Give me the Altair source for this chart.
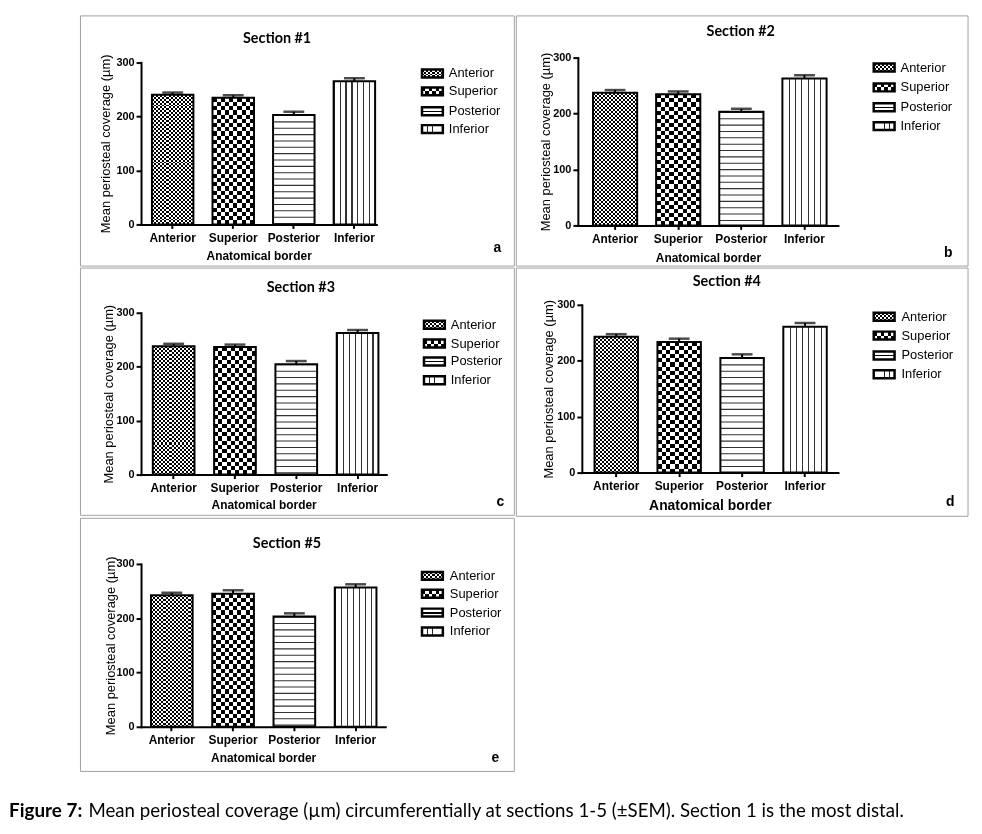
import altair as alt
import pandas as pd

# ---------------- data ----------------
categories = ["Anterior", "Superior", "Posterior", "Inferior"]
section_titles = ["Section #1", "Section #2", "Section #3", "Section #4", "Section #5"]
panel_letters = ["a", "b", "c", "d", "e"]

mean_s1 = [240.0, 234.5, 202.5, 265.0]
sem_s1 = [4.0, 4.5, 6.0, 5.5]
mean_s2 = [237.0, 234.5, 203.0, 262.5]
sem_s2 = [5.0, 5.0, 5.5, 6.0]
mean_s3 = [238.0, 236.5, 204.5, 262.5]
sem_s3 = [4.5, 4.5, 6.0, 5.5]
mean_s4 = [243.0, 233.5, 205.0, 261.0]
sem_s4 = [4.5, 6.0, 6.5, 6.5]
mean_s5 = [242.5, 245.0, 203.0, 256.5]
sem_s5 = [4.5, 6.5, 6.0, 6.0]

y_ticks = [0, 100, 200, 300]
y_title = "Mean periosteal coverage (µm)"
x_title = "Anatomical border"
caption_bold = "Figure 7:"
caption_rest = ("Mean periosteal coverage (µm) circumferentially at sections 1-5 (±SEM). "
                "Section 1 is the most distal.")

means = [mean_s1, mean_s2, mean_s3, mean_s4, mean_s5]
sems = [sem_s1, sem_s2, sem_s3, sem_s4, sem_s5]

# ---------------- layout (pixels, relative to each plot-area origin) ----------------
LAYOUT = [
    dict(W=237, H=168, ytop=4.7, pi=0.315, po=0.10, al=0.90, box=(-61, 376, -42, 210), title=(137, -19),
         legx=282, legtx=310, rows=[16, 34, 54, 72], ytx=-36, xty=31, letter=(359, 192),
         xts=12, anchor=-133),
    dict(W=262, H=169, ytop=0, pi=0.30, po=0.21, al=0.57, box=(-62, 393, -42, 210), title=(164, -26),
         legx=297, legtx=325, rows=[10, 30, 50, 69], ytx=-33, xty=32, letter=(373, 197),
         xts=12, anchor=None),
    dict(W=247, H=171, ytop=8, pi=0.32, po=0.16, al=0.60, box=(-61, 376, -37, 212), title=(161, -17),
         legx=284, legtx=312, rows=[20, 39, 57, 76], ytx=-33, xty=30, letter=(362, 199),
         xts=12, anchor=-133),
    dict(W=258, H=169, ytop=0, pi=0.31, po=0.19, al=0.53, box=(-66, 389, -37, 213), title=(146, -23),
         legx=293, legtx=322, rows=[12, 31, 51, 70], ytx=-34, xty=33, letter=(371, 199),
         xts=14, anchor=None),
    dict(W=246, H=164, ytop=0, pi=0.32, po=0.153, al=0.53, box=(-61, 376, -46, 209), title=(147, -20),
         legx=282, legtx=311, rows=[12, 30, 49, 68], ytx=-31, xty=31, letter=(357, 195),
         xts=12, anchor=None, caption=(-133, 249)),
]

SANS = "Liberation Sans"
TITLEFONT = "Lato"


def stripes(n, duty, vertical, on="#000000", off="#ffffff"):
    n = max(1, int(n))
    stops = []
    for k in range(n):
        s = k / n
        m = min(1.0, (k + duty) / n)
        e = (k + 1) / n
        stops += [(s, on), (m, on), (m, off), (e, off)]
    gs = [alt.GradientStop(offset=round(o, 5), color=c) for o, c in stops]
    if vertical:
        return alt.LinearGradient(gradient="linear", stops=gs, x1=0, x2=1, y1=0, y2=0)
    return alt.LinearGradient(gradient="linear", stops=gs, x1=0, x2=0, y1=0, y2=1)


def one_row():
    return pd.DataFrame({"k": [0]})


def panel(idx):
    L = LAYOUT[idx]
    W, H, ytop = L["W"], L["H"], L["ytop"]
    pi, po, al = L["pi"], L["po"], L["al"]
    step = W / (4 - pi + 2 * po)
    bw = step * (1 - pi)
    pxu = (H - ytop) / 300.0
    mv, sv = means[idx], sems[idx]
    df = pd.DataFrame({
        "cat": categories,
        "mean": mv,
        "zero": [0] * 4,
        "upper": [m + s for m, s in zip(mv, sv)],
    })
    xs = alt.Scale(domain=categories, paddingInner=pi, paddingOuter=po, align=al)
    ys = alt.Scale(domain=[0, 300], nice=False, zero=True, range=[H, ytop])
    x_axis = alt.Axis(
        title=x_title, labelAngle=0, labelFont=SANS, labelFontWeight="bold", labelFontSize=12,
        labelColor="black", tickSize=4, tickWidth=2, tickColor="black", domainColor="black",
        domainWidth=2, domainCap="square", labelPadding=4, titleFont=SANS, titleFontWeight="bold",
        titleFontSize=L["xts"], titleColor="black", titleY=L["xty"], titleBaseline="middle",
        grid=False,
    )
    y_axis = alt.Axis(
        title=y_title, values=y_ticks, labelFont=SANS, labelFontWeight="bold", labelFontSize=11,
        labelColor="black", tickSize=5, tickWidth=2, tickColor="black", domainColor="black",
        domainWidth=2, domainCap="square", labelPadding=2, titleFont=SANS, titleFontWeight="normal",
        titleFontSize=13, titleColor="black", titleX=L["ytx"], titleY=(H + ytop) / 2, titleAngle=270,
        titleAlign="center", titleBaseline="middle", grid=False,
    )
    base = alt.Chart(df)
    X = alt.X("cat:N", sort=categories, scale=xs, axis=x_axis)
    Y = alt.Y("mean:Q", scale=ys, axis=y_axis)
    layers = []

    # panel frame
    bx0, bx1, by0, by1 = L["box"]
    layers.append(alt.Chart(one_row()).mark_rect(fillOpacity=0, stroke="#a0a0a0", strokeWidth=1).encode(
        x=alt.value(bx0), x2=alt.value(bx1), y=alt.value(by0), y2=alt.value(by1)))
    if L.get("anchor") is not None:
        layers.append(alt.Chart(one_row()).mark_rule(stroke="white", strokeWidth=1).encode(
            x=alt.value(L["anchor"]), y=alt.value(100), y2=alt.value(101)))

    # pattern fills
    for cat, m in zip(categories, mv):
        h = m * pxu
        sub = base.transform_filter(alt.datum.cat == cat)
        if cat in ("Anterior", "Superior"):
            cell = 2.0 if cat == "Anterior" else 4.2
            layers.append(sub.mark_bar(fill=stripes(round(bw / (2 * cell)), 0.5, True), strokeWidth=0).encode(x=X, y=Y))
            layers.append(sub.mark_bar(fill=stripes(round(h / (2 * cell)), 0.5, False), strokeWidth=0,
                                       blend="difference").encode(x=X, y=Y))
        elif cat == "Posterior":
            layers.append(sub.mark_bar(fill="white", strokeWidth=0).encode(x=X, y=Y))
            layers.append(sub.mark_rule(color="#333333", strokeWidth=bw, strokeDash=[1.1, 5.3],
                                        strokeCap="butt").encode(x=X, y=Y, y2=alt.Y2("zero:Q")))
        else:
            n = round(bw / 6.0)
            layers.append(sub.mark_bar(fill=stripes(n, 1.1 / (bw / n), True, on="#333333"), strokeWidth=0).encode(x=X, y=Y))

    # outlines
    layers.append(base.mark_bar(fillOpacity=0, stroke="black", strokeWidth=2).encode(x=X, y=Y))
    # error bars (upper only)
    layers.append(base.mark_rule(color="black", strokeWidth=2).encode(x=X, y=Y, y2=alt.Y2("upper:Q")))
    layers.append(base.mark_tick(color="black", thickness=2.5, size=21).encode(
        x=X, y=alt.Y("upper:Q", scale=ys, axis=y_axis)))

    # legend
    lx = L["legx"]
    for cat, row in zip(categories, L["rows"]):
        sub = base.transform_filter(alt.datum.cat == cat)
        enc = dict(x=alt.value(lx + 1), x2=alt.value(lx + 22), y=alt.value(row - 4), y2=alt.value(row + 4))
        if cat == "Anterior":
            layers.append(sub.mark_rect(fill=stripes(5, 0.5, True), strokeWidth=0).encode(**enc))
            layers.append(sub.mark_rect(fill=stripes(2, 0.5, False), strokeWidth=0, blend="difference").encode(**enc))
        elif cat == "Superior":
            layers.append(sub.mark_rect(fill=stripes(3, 0.5, True), strokeWidth=0).encode(**enc))
            layers.append(sub.mark_rect(fill=stripes(1, 0.5, False), strokeWidth=0, blend="difference").encode(**enc))
        elif cat == "Posterior":
            g = alt.LinearGradient(gradient="linear", x1=0, x2=0, y1=0, y2=1, stops=[
                alt.GradientStop(offset=0, color="#ffffff"), alt.GradientStop(offset=0.42, color="#ffffff"),
                alt.GradientStop(offset=0.42, color="#000000"), alt.GradientStop(offset=0.62, color="#000000"),
                alt.GradientStop(offset=0.62, color="#ffffff"), alt.GradientStop(offset=1, color="#ffffff")])
            layers.append(sub.mark_rect(fill=g, strokeWidth=0).encode(**enc))
        else:
            layers.append(sub.mark_rect(fill=stripes(4, 0.09, True, on="#222222"), strokeWidth=0).encode(**enc))
        layers.append(sub.mark_rect(fillOpacity=0, stroke="black", strokeWidth=2.5).encode(**enc))
        layers.append(sub.mark_text(align="left", baseline="middle", font=SANS, fontSize=13, color="black").encode(
            text="cat:N", x=alt.value(L["legtx"]), y=alt.value(row)))

    # title and letter
    tdf = pd.DataFrame({"t": [section_titles[idx]], "l": [panel_letters[idx]]})
    layers.append(alt.Chart(tdf).mark_text(font=TITLEFONT, fontWeight="bold", fontSize=14.5, color="black",
                                           align="center", baseline="middle").encode(
        text="t:N", x=alt.value(L["title"][0]), y=alt.value(L["title"][1])))
    layers.append(alt.Chart(tdf).mark_text(font=SANS, fontWeight="bold", fontSize=14, color="black",
                                           align="center", baseline="middle").encode(
        text="l:N", x=alt.value(L["letter"][0]), y=alt.value(L["letter"][1])))

    if "caption" in L:
        cx, cy = L["caption"]
        cdf = pd.DataFrame({"b": [caption_bold], "r": [caption_rest]})
        layers.append(alt.Chart(cdf).mark_text(font=TITLEFONT, fontWeight="bold", fontSize=19, color="black",
                                               align="left", baseline="middle").encode(
            text="b:N", x=alt.value(cx), y=alt.value(cy)))
        layers.append(alt.Chart(cdf).mark_text(font=TITLEFONT, fontSize=18.8, color="black",
                                               align="left", baseline="middle").encode(
            text="r:N", x=alt.value(cx + 80), y=alt.value(cy)))

    return alt.layer(*layers).properties(width=W, height=H)


pa, pb, pc, pd_, pe = [panel(i) for i in range(5)]

chart = alt.vconcat(
    alt.hconcat(pa, pb, spacing=0),
    alt.hconcat(pc, pd_, spacing=0),
    pe,
    spacing=0,
).properties(
    padding={"left": 0, "top": 4, "right": 5, "bottom": 5}
).configure_view(strokeWidth=0)

chart.save("out.html", embed_options={"renderer": "svg", "actions": False})
